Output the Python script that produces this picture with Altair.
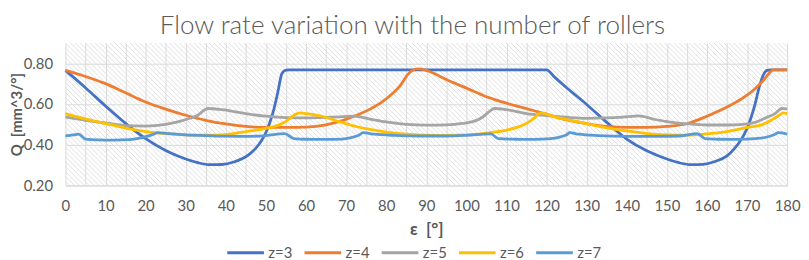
import altair as alt
import pandas as pd

# ---- data ----
z3_x = [0, 5, 10, 15, 20, 25, 30, 33, 36, 39, 42, 46, 48, 49, 50, 51, 52, 53, 54, 55, 56,
        120, 122, 125, 130, 135, 140, 145, 150, 153, 156, 159, 162, 165, 167, 168, 170, 172, 173, 174, 175, 176, 180]
z3_y = [0.765, 0.68, 0.59, 0.505, 0.43, 0.372, 0.33, 0.312, 0.302, 0.303, 0.315, 0.355, 0.395, 0.423, 0.46, 0.51, 0.575, 0.66, 0.75, 0.766, 0.768,
        0.768, 0.732, 0.68, 0.598, 0.51, 0.428, 0.37, 0.33, 0.312, 0.302, 0.304, 0.318, 0.345, 0.385, 0.41, 0.48, 0.6, 0.68, 0.74, 0.765, 0.768, 0.768]

z4_x = [0, 5, 10, 15, 20, 25, 30, 35, 40, 45, 50, 55, 60, 65, 68, 72, 76, 79, 81.5, 83.5, 85, 86.5, 88, 90,
        92, 95, 100, 105, 110, 115, 120, 125, 130, 135, 140, 145, 150, 155, 160, 165, 169, 172, 174, 175.5, 176.5, 180]
z4_y = [0.765, 0.735, 0.70, 0.655, 0.61, 0.575, 0.545, 0.52, 0.502, 0.49, 0.485, 0.485, 0.487, 0.498, 0.512, 0.54, 0.575, 0.61, 0.65, 0.69, 0.735, 0.765, 0.772, 0.765,
        0.75, 0.72, 0.678, 0.636, 0.604, 0.577, 0.55, 0.522, 0.504, 0.49, 0.485, 0.485, 0.49, 0.503, 0.54, 0.585, 0.63, 0.675, 0.715, 0.75, 0.768, 0.768]

z5_x = [0, 5, 10, 15, 20, 25, 28, 31, 33, 34.5, 35.5, 39, 45, 50, 55, 60, 66, 72, 76, 80, 85, 90,
        95, 99, 102, 104, 105.5, 107, 110, 115, 120, 125, 130, 135, 139, 143, 147, 150, 155, 160, 165, 169, 172, 175, 177, 178.7, 180]
z5_y = [0.537, 0.52, 0.507, 0.494, 0.492, 0.50, 0.512, 0.53, 0.545, 0.568, 0.578, 0.572, 0.553, 0.54, 0.533, 0.532, 0.535, 0.54, 0.526, 0.512, 0.50, 0.496,
        0.498, 0.505, 0.516, 0.535, 0.56, 0.578, 0.572, 0.553, 0.543, 0.535, 0.53, 0.532, 0.536, 0.542, 0.524, 0.514, 0.503, 0.497, 0.497, 0.50, 0.51, 0.535, 0.553, 0.578, 0.576]

z6_x = [0, 5, 10, 15, 20, 25, 30, 35, 40, 45, 50, 53, 55, 57, 58.5, 60, 64, 68, 72, 76, 80, 85, 90,
        95, 100, 105, 110, 113, 115, 117, 118.5, 120, 122, 126, 130, 135, 140, 145, 150, 155, 160, 165, 170, 174, 176, 178, 179, 180]
z6_y = [0.553, 0.527, 0.504, 0.482, 0.465, 0.455, 0.449, 0.447, 0.45, 0.465, 0.48, 0.495, 0.515, 0.545, 0.556, 0.553, 0.54, 0.515, 0.492, 0.475, 0.462, 0.452, 0.447,
        0.446, 0.448, 0.457, 0.472, 0.488, 0.505, 0.532, 0.556, 0.55, 0.537, 0.52, 0.503, 0.483, 0.468, 0.455, 0.449, 0.447, 0.453, 0.465, 0.485, 0.5, 0.52, 0.545, 0.556, 0.553]

z7_x = [0, 2, 3.3, 5, 8, 12, 16, 18.5, 20.5, 22, 23, 26, 30, 35, 40, 45, 50, 54.7, 57, 60, 65, 69, 71, 73, 74.3,
        77, 82, 88, 95, 100, 106.1, 108, 112, 117, 121, 123, 125, 125.8, 128, 133, 140, 147, 153, 157.6, 159.5,
        163, 168, 172, 175, 177, 177.8, 180]
z7_y = [0.443, 0.448, 0.452, 0.428, 0.424, 0.423, 0.425, 0.432, 0.442, 0.452, 0.459, 0.455, 0.448, 0.445, 0.442, 0.441, 0.445, 0.455, 0.43, 0.427, 0.426, 0.428, 0.434, 0.445, 0.459,
        0.452, 0.446, 0.443, 0.443, 0.446, 0.453, 0.43, 0.427, 0.426, 0.43, 0.436, 0.449, 0.459, 0.452, 0.445, 0.441, 0.441, 0.443, 0.455, 0.43,
        0.427, 0.426, 0.43, 0.438, 0.452, 0.459, 0.452]

series_names = ["z=3", "z=4", "z=5", "z=6", "z=7"]
series_colors = ["#4472C4", "#ED7D31", "#A5A5A5", "#FFC000", "#5B9BD5"]
x_ticks = list(range(0, 181, 5))
y_ticks = [0.2, 0.4, 0.6, 0.8]

rows = []
for name, xs, ys in zip(series_names, [z3_x, z4_x, z5_x, z6_x, z7_x], [z3_y, z4_y, z5_y, z6_y, z7_y]):
    for i, (a, b) in enumerate(zip(xs, ys)):
        rows.append({"eps": a, "Q": b, "z": name, "order": i})
df = pd.DataFrame(rows)

W, H = 729, 144
FONT = "Lato"
GRAY = "#595959"

# background hatch (decoration in pixel space)
hatch = alt.Chart(alt.sequence(-150, W + 5, 5, as_="h")).transform_calculate(
    h2="datum.h + 144"
).mark_rule(color="#e0e0e0", strokeWidth=1, clip=True).encode(
    x=alt.X("h:Q", scale=alt.Scale(domain=[0, W], nice=False, zero=False), axis=None),
    x2="h2:Q",
    y=alt.value(0),
    y2=alt.value(H),
)

lines = alt.Chart(df).mark_line(strokeWidth=2.8, interpolate="monotone").encode(
    x=alt.X("eps:Q", scale=alt.Scale(domain=[0, 180], nice=False),
            axis=alt.Axis(values=x_ticks, title="ε \u00a0[°]", grid=True, ticks=False,
                          labelExpr="datum.value % 10 == 0 ? datum.label : ''",
                          labelFlush=False, labelBound=False, labelOverlap=False,
                          labelPadding=13, titlePadding=9, domainColor="#d9d9d9")),
    y=alt.Y("Q:Q", scale=alt.Scale(domain=[0.2, 0.9], nice=False, zero=False),
            axis=alt.Axis(values=y_ticks, format=".2f", title="Q \u00a0[mm^3/°]", grid=True,
                          ticks=False, domain=False, labelPadding=13, titleFontSize=15,
                          titleX=-49, titleY=H / 2, titleAngle=270, titleBaseline="middle", titleAlign="center")),
    color=alt.Color("z:N", scale=alt.Scale(domain=series_names, range=series_colors),
                    legend=alt.Legend(title=None, orient="none", direction="horizontal",
                                      legendX=162, legendY=192, symbolType="stroke",
                                      symbolSize=1369, symbolStrokeWidth=3,
                                      labelFontSize=15, labelColor=GRAY, labelFont=FONT,
                                      columnPadding=5, labelOffset=3, padding=0)),
    order="order:Q",
)

chart = alt.layer(hatch, lines).resolve_scale(x="independent").properties(
    width=W, height=H,
    autosize=alt.AutoSizeParams(type="none"),
    padding={"left": 58, "top": 34, "right": 14, "bottom": 74},
    title=alt.TitleParams("Flow rate variation with the number of rollers", fontSize=26.3,
                          font=FONT, fontWeight=300, color=GRAY, anchor="middle",
                          frame="group", dx=-14, offset=4),
).configure_view(stroke=None).configure_axis(
    gridColor="#d9d9d9", gridWidth=1, labelFont=FONT, labelFontSize=15, labelColor=GRAY,
    titleFont=FONT, titleFontSize=17, titleColor=GRAY, titleFontWeight="bold",
)

chart.save("out.html", embed_options={"renderer": "svg", "actions": False})
